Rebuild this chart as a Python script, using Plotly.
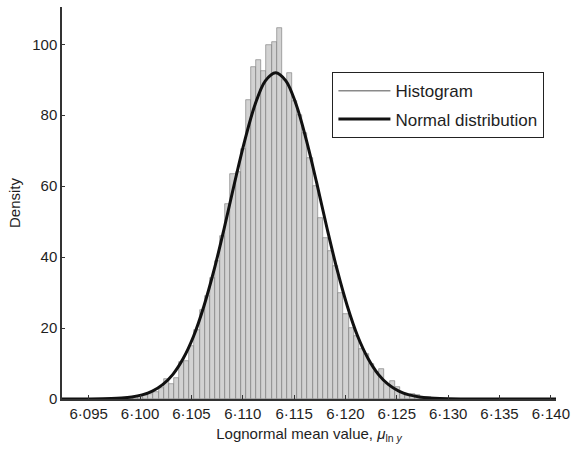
import plotly.graph_objects as go

# ---------------- data ----------------
bin_centers = [
    6.09905, 6.09955, 6.10005, 6.10055, 6.10105, 6.10155, 6.10205, 6.10255,
    6.10305, 6.10355, 6.10405, 6.10455, 6.10505, 6.10555, 6.10605, 6.10655,
    6.10705, 6.10755, 6.10805, 6.10855, 6.10905, 6.10955, 6.11005, 6.11055,
    6.11105, 6.11155, 6.11205, 6.11255, 6.11305, 6.11355, 6.11405, 6.11455,
    6.11505, 6.11555, 6.11605, 6.11655, 6.11705, 6.11755, 6.11805, 6.11855,
    6.11905, 6.11955, 6.12005, 6.12055, 6.12105, 6.12155, 6.12205, 6.12255,
    6.12305, 6.12355, 6.12405, 6.12455, 6.12505, 6.12555, 6.12605, 6.12655,
    6.12705, 6.12755, 6.12805, 6.12855,
]
bin_density = [
    0.2, 0.3, 0.5, 1.0, 1.4, 2.0, 3.0, 5.6,
    4.2, 6.0, 10.3, 10.7, 15.0, 19.5, 25.0, 29.0,
    34.0, 39.0, 46.0, 55.0, 63.5, 64.0, 70.6, 84.2,
    93.6, 95.5, 92.4, 99.7, 100.5, 104.7, 90.0, 91.9,
    84.0, 80.0, 75.0, 68.0, 60.0, 51.0, 45.5, 41.8,
    37.6, 30.0, 24.0, 20.0, 17.8, 14.0, 12.7, 9.9,
    7.5, 8.5, 4.2, 5.0, 3.4, 1.8, 1.0, 1.5,
    1.2, 0.4, 0.7, 0.2,
]
bin_width = 0.0005

curve_x = [
    6.0924, 6.0952, 6.0972, 6.0982, 6.0992, 6.1002, 6.1012, 6.1022, 6.1032,
    6.1042, 6.1052, 6.1062, 6.1072, 6.1082, 6.1092, 6.1102, 6.1112, 6.1122,
    6.1132, 6.1142, 6.1152, 6.1162, 6.1172, 6.1182, 6.1192, 6.1202, 6.1212,
    6.1222, 6.1232, 6.1242, 6.1252, 6.1262, 6.1272, 6.1282, 6.1292, 6.1312,
    6.1352, 6.1405,
]
curve_y = [
    0.0, 0.01, 0.12, 0.28, 0.58, 1.17, 2.23, 4.04, 6.95,
    11.4, 17.6, 26.0, 36.3, 48.2, 60.9, 72.9, 83.0, 89.7,
    92.0, 89.7, 83.0, 72.9, 60.9, 48.2, 36.3, 26.0, 17.6,
    11.4, 6.95, 4.04, 2.23, 1.17, 0.58, 0.28, 0.12, 0.02,
    0.0, 0.0,
]

x_tick_vals = [6.095, 6.100, 6.105, 6.110, 6.115, 6.120, 6.125, 6.130, 6.135, 6.140]
x_tick_text = ["6·095", "6·100", "6·105", "6·110", "6·115", "6·120",
               "6·125", "6·130", "6·135", "6·140"]
y_tick_vals = [0, 20, 40, 60, 80, 100]

FONT = "Liberation Sans, Arial, sans-serif"
TXT = "#1e1e1e"
AX_SIZE = 15

fig = go.Figure()

# histogram bars (legend shown through a line sample below)
fig.add_trace(go.Bar(
    x=bin_centers, y=bin_density, width=bin_width,
    marker=dict(color="#d2d2d2", line=dict(color="#747474", width=0.6)),
    showlegend=False, hoverinfo="x+y",
))
# legend entry for histogram (thin grey line)
fig.add_trace(go.Scatter(
    x=[None], y=[None], mode="lines", name="Histogram",
    line=dict(color="#8a8a8a", width=1.5),
    legendgroup="h",
))
# fitted normal distribution
fig.add_trace(go.Scatter(
    x=curve_x, y=curve_y, mode="lines", name="Normal distribution",
    line=dict(color="#111111", width=3, shape="spline", smoothing=1.0),
    legendgroup="n",
))

fig.update_layout(
    width=576, height=452,
    margin=dict(l=62, r=20, t=7, b=53),
    paper_bgcolor="white", plot_bgcolor="white",
    font=dict(family=FONT, size=AX_SIZE, color=TXT),
    bargap=0,
    legend=dict(
        x=0.547, y=0.834, xanchor="left", yanchor="top",
        bordercolor="#222222", borderwidth=1.2, bgcolor="white",
        font=dict(family=FONT, size=17, color=TXT),
        traceorder="grouped", tracegroupgap=3,
        itemwidth=52,
    ),
    xaxis=dict(
        range=[6.0924, 6.1405],
        tickmode="array", tickvals=x_tick_vals, ticktext=x_tick_text,
        ticks="inside", ticklen=4, tickcolor="#333333", tickwidth=1,
        showline=True, linecolor="#333333", linewidth=1.5,
        showgrid=False, zeroline=False,
        tickfont=dict(family=FONT, size=AX_SIZE, color=TXT),
        title=dict(text="Lognormal mean value, <i>μ</i><sub>ln <i>y</i></sub>",
                   font=dict(family=FONT, size=AX_SIZE, color=TXT), standoff=8),
    ),
    yaxis=dict(
        range=[0, 110.5],
        tickmode="array", tickvals=y_tick_vals,
        ticks="inside", ticklen=3, tickcolor="#333333", tickwidth=1,
        showline=True, linecolor="#333333", linewidth=1.5,
        showgrid=False, zeroline=False,
        tickfont=dict(family=FONT, size=AX_SIZE, color=TXT),
        title=dict(text="Density", font=dict(family=FONT, size=AX_SIZE, color=TXT),
                   standoff=8),
    ),
)

fig.write_html("out.html")
